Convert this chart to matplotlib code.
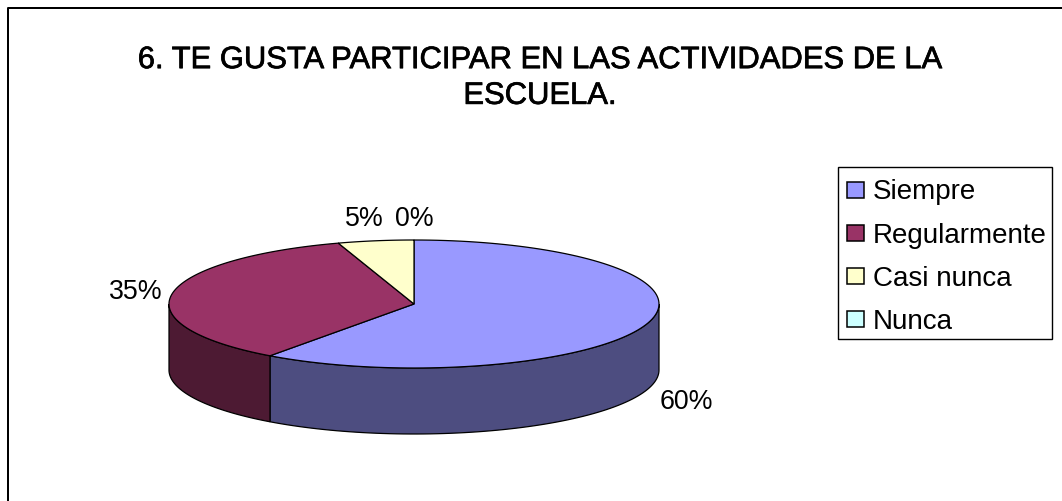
import numpy as np
import matplotlib
matplotlib.use("Agg")
import matplotlib.pyplot as plt
import matplotlib.patheffects as pe
from matplotlib.patches import Polygon, Rectangle

plt.rcParams["font.family"] = ["Liberation Sans", "DejaVu Sans"]

categories = ["Siempre", "Regularmente", "Casi nunca", "Nunca"]
values = [60, 35, 5, 0]
labels = ["60%", "35%", "5%", "0%"]
top_colors = ["#9999ff", "#993366", "#ffffcc", "#ccffff"]
side_colors = ["#4d4d80", "#4d1a33", "#808066", "#668080"]
title = "6. TE GUSTA PARTICIPAR EN LAS ACTIVIDADES DE LA\nESCUELA."

W, H = 1062, 502
fig = plt.figure(figsize=(W / 100, H / 100), dpi=100)
ax = fig.add_axes([0, 0, 1, 1])
ax.set_xlim(0, W)
ax.set_ylim(H, 0)
ax.axis("off")

# chart frame, only the top and left edges are in the crop
ax.plot([8, 8, W], [H, 9.3, 9.3], color="black", lw=1.44)

ax.text(540, 79, title, ha="center", va="center", fontsize=22.3, linespacing=1.25,
        color="black", path_effects=[pe.withStroke(linewidth=0.5, foreground="black")])

cx, cy, rx, ry = 414, 305, 245, 64
depth = 66


def ell(angle):
    # angle in degrees, clockwise from the top of the pie
    a = np.radians(angle)
    return cx + rx * np.sin(a), cy - ry * np.cos(a)


# slice boundaries clockwise from 12 o'clock
bounds = np.cumsum([0] + values) * 3.6

# side walls, only the front part of the rim is visible
for i in range(len(values)):
    lo, hi = max(bounds[i], 90), min(bounds[i + 1], 270)
    if hi <= lo:
        continue
    t = np.linspace(lo, hi, 80)
    x, y = ell(t)
    pts = np.r_[np.c_[x, y], np.c_[x, y + depth][::-1]]
    ax.add_patch(Polygon(pts, closed=True, fc=side_colors[i], ec="black", lw=0.9))

for i in range(len(values)):
    if values[i] == 0:
        continue
    t = np.linspace(bounds[i], bounds[i + 1], 120)
    x, y = ell(t)
    pts = np.r_[[[cx, cy]], np.c_[x, y]]
    ax.add_patch(Polygon(pts, closed=True, fc=top_colors[i], ec="black", lw=0.9))

# value labels
label_pos = [(686, 402), (136, 292), (364, 219), (414, 219)]
for s, (lx, ly) in zip(labels, label_pos):
    ax.text(lx, ly, s, ha="center", va="center", fontsize=19.3, color="black")

# legend
ax.add_patch(Rectangle((838, 167.5), 214, 172, fc="white", ec="black", lw=1))
for i, name in enumerate(categories):
    ly = 190.5 + i * 43.3
    ax.add_patch(Rectangle((847, ly - 8), 17, 16, fc=top_colors[i], ec="black", lw=1.1))
    ax.text(873, ly + 2, name, ha="left", va="center", fontsize=20, color="black")

fig.savefig("out.png", dpi=100)
